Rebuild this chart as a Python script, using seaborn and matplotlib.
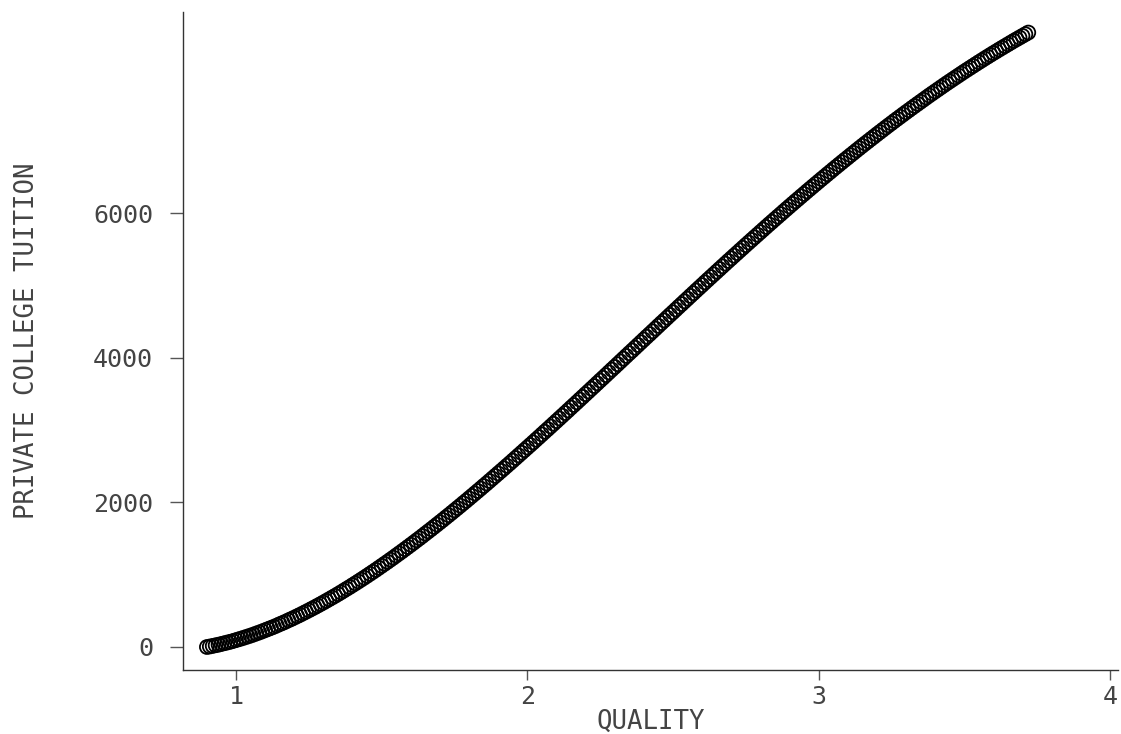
import matplotlib
matplotlib.use("Agg")
import matplotlib.pyplot as plt
import seaborn as sns

# quality grid and tuition
quality = [
    0.90, 0.91, 0.92, 0.93, 0.94, 0.95, 0.96, 0.97, 0.98, 0.99,
    1.00, 1.01, 1.02, 1.03, 1.04, 1.05, 1.06, 1.07, 1.08, 1.09,
    1.10, 1.11, 1.12, 1.13, 1.14, 1.15, 1.16, 1.17, 1.18, 1.19,
    1.20, 1.21, 1.22, 1.23, 1.24, 1.25, 1.26, 1.27, 1.28, 1.29,
    1.30, 1.31, 1.32, 1.33, 1.34, 1.35, 1.36, 1.37, 1.38, 1.39,
    1.40, 1.41, 1.42, 1.43, 1.44, 1.45, 1.46, 1.47, 1.48, 1.49,
    1.50, 1.51, 1.52, 1.53, 1.54, 1.55, 1.56, 1.57, 1.58, 1.59,
    1.60, 1.61, 1.62, 1.63, 1.64, 1.65, 1.66, 1.67, 1.68, 1.69,
    1.70, 1.71, 1.72, 1.73, 1.74, 1.75, 1.76, 1.77, 1.78, 1.79,
    1.80, 1.81, 1.82, 1.83, 1.84, 1.85, 1.86, 1.87, 1.88, 1.89,
    1.90, 1.91, 1.92, 1.93, 1.94, 1.95, 1.96, 1.97, 1.98, 1.99,
    2.00, 2.01, 2.02, 2.03, 2.04, 2.05, 2.06, 2.07, 2.08, 2.09,
    2.10, 2.11, 2.12, 2.13, 2.14, 2.15, 2.16, 2.17, 2.18, 2.19,
    2.20, 2.21, 2.22, 2.23, 2.24, 2.25, 2.26, 2.27, 2.28, 2.29,
    2.30, 2.31, 2.32, 2.33, 2.34, 2.35, 2.36, 2.37, 2.38, 2.39,
    2.40, 2.41, 2.42, 2.43, 2.44, 2.45, 2.46, 2.47, 2.48, 2.49,
    2.50, 2.51, 2.52, 2.53, 2.54, 2.55, 2.56, 2.57, 2.58, 2.59,
    2.60, 2.61, 2.62, 2.63, 2.64, 2.65, 2.66, 2.67, 2.68, 2.69,
    2.70, 2.71, 2.72, 2.73, 2.74, 2.75, 2.76, 2.77, 2.78, 2.79,
    2.80, 2.81, 2.82, 2.83, 2.84, 2.85, 2.86, 2.87, 2.88, 2.89,
    2.90, 2.91, 2.92, 2.93, 2.94, 2.95, 2.96, 2.97, 2.98, 2.99,
    3.00, 3.01, 3.02, 3.03, 3.04, 3.05, 3.06, 3.07, 3.08, 3.09,
    3.10, 3.11, 3.12, 3.13, 3.14, 3.15, 3.16, 3.17, 3.18, 3.19,
    3.20, 3.21, 3.22, 3.23, 3.24, 3.25, 3.26, 3.27, 3.28, 3.29,
    3.30, 3.31, 3.32, 3.33, 3.34, 3.35, 3.36, 3.37, 3.38, 3.39,
    3.40, 3.41, 3.42, 3.43, 3.44, 3.45, 3.46, 3.47, 3.48, 3.49,
    3.50, 3.51, 3.52, 3.53, 3.54, 3.55, 3.56, 3.57, 3.58, 3.59,
    3.60, 3.61, 3.62, 3.63, 3.64, 3.65, 3.66, 3.67, 3.68, 3.69,
    3.70, 3.71, 3.72,
]
tuition = [
    0, 7, 15, 24, 32, 42, 52, 62, 72, 83,
    95, 107, 119, 132, 145, 158, 172, 187, 201, 216,
    232, 248, 264, 280, 297, 315, 332, 350, 369, 387,
    406, 426, 445, 466, 486, 507, 528, 549, 571, 593,
    615, 638, 661, 684, 707, 731, 755, 780, 805, 829,
    855, 880, 906, 932, 958, 985, 1012, 1039, 1066, 1094,
    1122, 1150, 1178, 1207, 1235, 1265, 1294, 1323, 1353, 1383,
    1413, 1443, 1474, 1504, 1535, 1567, 1598, 1629, 1661, 1693,
    1725, 1757, 1790, 1822, 1855, 1888, 1921, 1954, 1988, 2021,
    2055, 2089, 2123, 2157, 2191, 2226, 2260, 2295, 2330, 2365,
    2400, 2435, 2470, 2506, 2541, 2577, 2613, 2649, 2685, 2721,
    2757, 2793, 2829, 2866, 2902, 2939, 2976, 3012, 3049, 3086,
    3123, 3160, 3197, 3234, 3271, 3309, 3346, 3383, 3421, 3458,
    3496, 3533, 3571, 3608, 3646, 3684, 3721, 3759, 3797, 3835,
    3872, 3910, 3948, 3986, 4024, 4062, 4099, 4137, 4175, 4213,
    4251, 4289, 4326, 4364, 4402, 4440, 4478, 4515, 4553, 4591,
    4628, 4666, 4704, 4741, 4779, 4816, 4854, 4891, 4929, 4966,
    5003, 5041, 5078, 5115, 5152, 5189, 5226, 5263, 5300, 5337,
    5373, 5410, 5446, 5483, 5519, 5556, 5592, 5628, 5664, 5700,
    5736, 5772, 5808, 5844, 5879, 5915, 5950, 5985, 6021, 6056,
    6091, 6126, 6161, 6195, 6230, 6264, 6299, 6333, 6367, 6401,
    6435, 6469, 6502, 6536, 6569, 6603, 6636, 6669, 6702, 6735,
    6767, 6800, 6832, 6865, 6897, 6929, 6961, 6992, 7024, 7055,
    7087, 7118, 7149, 7180, 7211, 7241, 7272, 7302, 7332, 7362,
    7392, 7421, 7451, 7480, 7509, 7538, 7567, 7596, 7625, 7653,
    7681, 7709, 7737, 7765, 7793, 7820, 7847, 7874, 7901, 7928,
    7955, 7981, 8007, 8033, 8059, 8085, 8110, 8136, 8161, 8186,
    8211, 8235, 8260, 8284, 8308, 8332, 8356, 8380, 8403, 8426,
    8449, 8472, 8495,
]
x_ticks = [1, 2, 3, 4]
y_ticks = [0, 2000, 4000, 6000]

sns.set_style("ticks")
plt.rcParams["font.family"] = ["DejaVu Sans Mono"]
txt = "#444444"

fig = plt.figure(figsize=(11.21, 7.34), dpi=100)
ax = fig.add_axes([183 / 1121, 1 - 670 / 734, (1118 - 183) / 1121, (670 - 12) / 734])

# open circles, packed tight like the original
sns.scatterplot(x=quality, y=tuition, ax=ax, marker="o", facecolor="none",
                edgecolor="black", s=100, linewidth=1.3)

ax.set_xlim(0.818, 4.028)
ax.set_ylim(-318, 8779)
ax.set_xticks(x_ticks)
ax.set_yticks(y_ticks)
sns.despine(ax=ax)
for s in ["left", "bottom"]:
    ax.spines[s].set_linewidth(1.0)
    ax.spines[s].set_color("#333333")
ax.tick_params(axis="x", length=7.5, width=1.0, color="#555555", pad=3, labelsize=18, labelcolor=txt)
ax.tick_params(axis="y", length=9.5, width=1.0, color="#555555", pad=12, labelsize=18, labelcolor=txt)
ax.set_xlabel("QUALITY", fontsize=18.5, color=txt, labelpad=0)
ax.set_ylabel("PRIVATE COLLEGE TUITION", fontsize=18.5, color=txt, labelpad=38)

fig.savefig("out.png", dpi=100)
